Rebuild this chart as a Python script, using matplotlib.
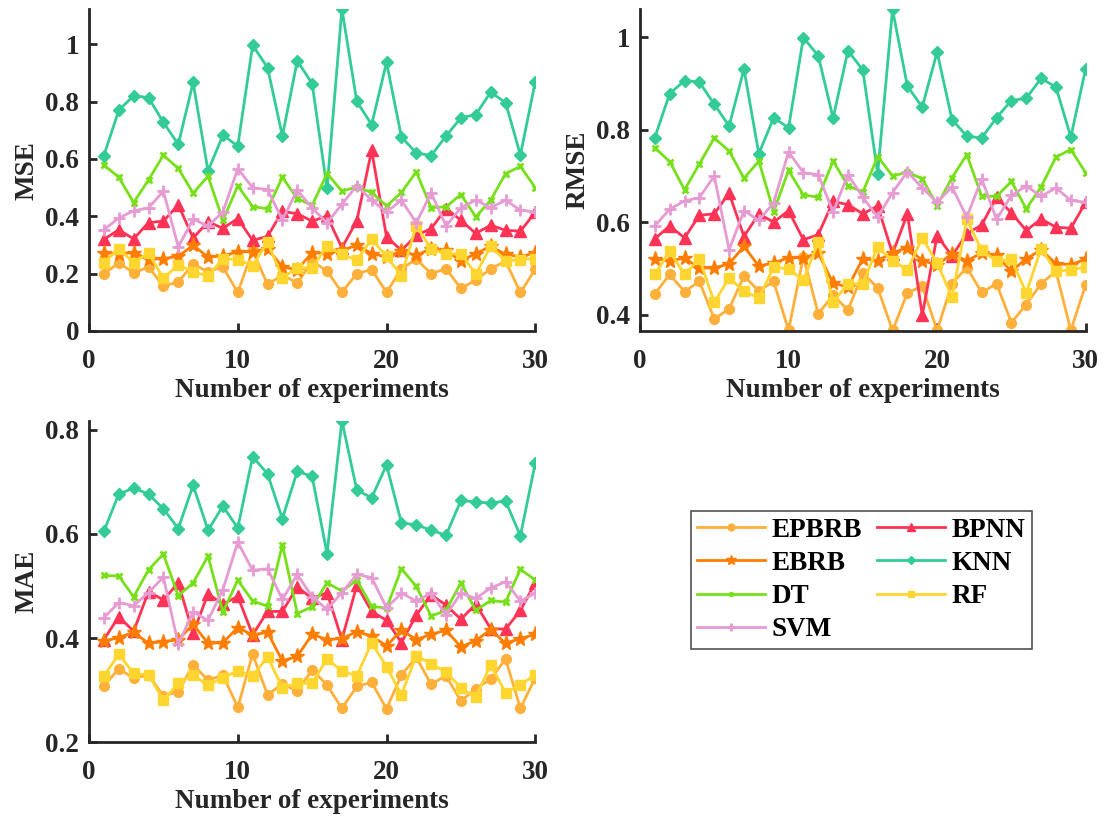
import matplotlib
matplotlib.use("Agg")
import matplotlib.pyplot as plt
from matplotlib.ticker import FuncFormatter

plt.rcParams['font.family'] = ['Liberation Serif', 'DejaVu Serif']
plt.rcParams['font.weight'] = 'bold'

x = list(range(1, 31))
methods = ['EPBRB', 'BPNN', 'EBRB', 'KNN', 'DT', 'RF', 'SVM']
colors = {'EPBRB': '#ffb03b', 'BPNN': '#ff3355', 'EBRB': '#ff7d00', 'KNN': '#33cc96',
          'DT': '#78e01a', 'RF': '#ffd530', 'SVM': '#e69bd2'}
markers = {'EPBRB': ('o', 7), 'BPNN': ('^', 9), 'EBRB': ('*', 11), 'KNN': ('D', 6.5),
           'DT': ('x', 5), 'RF': ('s', 6.5), 'SVM': ('+', 8)}

# MSE
mse_epbrb = [0.198, 0.238, 0.202, 0.223, 0.156, 0.171, 0.233, 0.206, 0.223, 0.134,
             0.281, 0.162, 0.195, 0.167, 0.243, 0.209, 0.134, 0.200, 0.214, 0.134,
             0.217, 0.250, 0.200, 0.217, 0.148, 0.177, 0.217, 0.243, 0.134, 0.215]
mse_bpnn = [0.319, 0.353, 0.321, 0.378, 0.383, 0.440, 0.324, 0.381, 0.358, 0.392,
            0.316, 0.330, 0.417, 0.409, 0.383, 0.401, 0.290, 0.384, 0.630, 0.328,
            0.281, 0.333, 0.357, 0.427, 0.386, 0.340, 0.369, 0.351, 0.348, 0.414]
mse_ebrb = [0.272, 0.270, 0.273, 0.250, 0.252, 0.260, 0.299, 0.257, 0.262, 0.276,
            0.276, 0.287, 0.223, 0.214, 0.273, 0.270, 0.281, 0.299, 0.270, 0.258,
            0.279, 0.264, 0.287, 0.281, 0.244, 0.270, 0.295, 0.267, 0.258, 0.273]
mse_knn = [0.612, 0.770, 0.821, 0.814, 0.728, 0.651, 0.867, 0.558, 0.683, 0.645,
           0.997, 0.919, 0.680, 0.943, 0.863, 0.497, 1.124, 0.801, 0.720, 0.937,
           0.677, 0.621, 0.612, 0.680, 0.744, 0.755, 0.833, 0.797, 0.614, 0.870]
mse_dt = [0.579, 0.536, 0.448, 0.527, 0.613, 0.567, 0.481, 0.540, 0.386, 0.506,
          0.434, 0.426, 0.536, 0.462, 0.438, 0.549, 0.488, 0.502, 0.483, 0.436,
          0.483, 0.555, 0.430, 0.433, 0.476, 0.398, 0.456, 0.549, 0.574, 0.500]
mse_rf = [0.238, 0.287, 0.238, 0.272, 0.183, 0.231, 0.206, 0.191, 0.252, 0.249,
          0.227, 0.310, 0.185, 0.220, 0.220, 0.295, 0.267, 0.247, 0.320, 0.260,
          0.193, 0.366, 0.287, 0.267, 0.270, 0.198, 0.295, 0.244, 0.249, 0.252]
mse_svm = [0.353, 0.394, 0.419, 0.429, 0.488, 0.293, 0.390, 0.366, 0.415, 0.566,
           0.500, 0.493, 0.388, 0.491, 0.429, 0.377, 0.442, 0.507, 0.456, 0.415,
           0.456, 0.377, 0.482, 0.366, 0.430, 0.456, 0.430, 0.456, 0.421, 0.415]

# RMSE
rmse_epbrb = [0.445, 0.487, 0.450, 0.472, 0.391, 0.412, 0.484, 0.451, 0.472, 0.366,
              0.525, 0.402, 0.442, 0.410, 0.490, 0.458, 0.366, 0.447, 0.462, 0.366,
              0.467, 0.502, 0.448, 0.467, 0.383, 0.422, 0.467, 0.494, 0.366, 0.465]
rmse_bpnn = [0.564, 0.592, 0.566, 0.615, 0.618, 0.663, 0.569, 0.618, 0.600, 0.625,
             0.562, 0.573, 0.645, 0.638, 0.618, 0.635, 0.532, 0.618, 0.399, 0.571,
             0.527, 0.575, 0.594, 0.654, 0.620, 0.582, 0.607, 0.589, 0.587, 0.643]
rmse_ebrb = [0.521, 0.517, 0.522, 0.501, 0.501, 0.510, 0.548, 0.505, 0.512, 0.523,
             0.523, 0.533, 0.468, 0.460, 0.521, 0.517, 0.534, 0.545, 0.517, 0.507,
             0.532, 0.516, 0.534, 0.528, 0.494, 0.521, 0.540, 0.510, 0.508, 0.520]
rmse_knn = [0.783, 0.878, 0.906, 0.903, 0.855, 0.808, 0.931, 0.748, 0.826, 0.804,
            0.999, 0.960, 0.825, 0.971, 0.929, 0.705, 1.060, 0.894, 0.849, 0.968,
            0.822, 0.786, 0.782, 0.826, 0.863, 0.868, 0.911, 0.892, 0.784, 0.932]
rmse_dt = [0.761, 0.731, 0.670, 0.726, 0.782, 0.754, 0.695, 0.732, 0.623, 0.712,
           0.659, 0.654, 0.732, 0.679, 0.665, 0.742, 0.700, 0.708, 0.694, 0.636,
           0.696, 0.746, 0.656, 0.656, 0.688, 0.629, 0.676, 0.741, 0.757, 0.707]
rmse_rf = [0.487, 0.537, 0.487, 0.521, 0.427, 0.479, 0.451, 0.436, 0.503, 0.499,
           0.474, 0.558, 0.427, 0.467, 0.467, 0.546, 0.517, 0.497, 0.566, 0.512,
           0.438, 0.606, 0.539, 0.516, 0.520, 0.447, 0.543, 0.494, 0.497, 0.503]
rmse_svm = [0.592, 0.628, 0.646, 0.653, 0.700, 0.540, 0.625, 0.604, 0.642, 0.752,
            0.707, 0.703, 0.622, 0.703, 0.654, 0.611, 0.664, 0.709, 0.674, 0.643,
            0.676, 0.611, 0.694, 0.606, 0.658, 0.678, 0.656, 0.674, 0.647, 0.643]

# MAE
mae_epbrb = [0.308, 0.341, 0.323, 0.329, 0.289, 0.297, 0.349, 0.319, 0.329, 0.267,
             0.369, 0.291, 0.312, 0.298, 0.339, 0.310, 0.265, 0.307, 0.315, 0.264,
             0.329, 0.363, 0.311, 0.328, 0.279, 0.303, 0.321, 0.360, 0.265, 0.324]
mae_bpnn = [0.397, 0.441, 0.413, 0.489, 0.473, 0.506, 0.409, 0.485, 0.465, 0.480,
            0.406, 0.451, 0.451, 0.498, 0.476, 0.487, 0.397, 0.501, 0.451, 0.434,
            0.391, 0.444, 0.483, 0.463, 0.436, 0.465, 0.418, 0.417, 0.453, 0.506]
mae_ebrb = [0.394, 0.401, 0.411, 0.390, 0.393, 0.397, 0.426, 0.390, 0.391, 0.420,
            0.406, 0.411, 0.356, 0.365, 0.407, 0.397, 0.399, 0.412, 0.404, 0.385,
            0.415, 0.397, 0.407, 0.415, 0.383, 0.395, 0.416, 0.390, 0.399, 0.407]
mae_knn = [0.605, 0.676, 0.688, 0.676, 0.648, 0.610, 0.693, 0.607, 0.653, 0.611,
           0.748, 0.715, 0.629, 0.720, 0.710, 0.562, 0.817, 0.684, 0.669, 0.732,
           0.621, 0.617, 0.607, 0.597, 0.664, 0.661, 0.659, 0.663, 0.596, 0.736]
mae_dt = [0.520, 0.519, 0.479, 0.531, 0.561, 0.481, 0.506, 0.557, 0.450, 0.511,
          0.471, 0.461, 0.579, 0.447, 0.460, 0.506, 0.490, 0.511, 0.461, 0.457,
          0.533, 0.499, 0.442, 0.453, 0.506, 0.453, 0.472, 0.469, 0.532, 0.511]
mae_rf = [0.327, 0.369, 0.332, 0.329, 0.281, 0.313, 0.329, 0.309, 0.324, 0.337,
          0.327, 0.364, 0.305, 0.313, 0.313, 0.360, 0.337, 0.327, 0.391, 0.345,
          0.291, 0.366, 0.351, 0.334, 0.305, 0.286, 0.349, 0.295, 0.310, 0.330]
mae_svm = [0.439, 0.468, 0.462, 0.487, 0.517, 0.388, 0.450, 0.434, 0.493, 0.584,
           0.530, 0.533, 0.474, 0.522, 0.479, 0.455, 0.487, 0.522, 0.516, 0.458,
           0.486, 0.471, 0.486, 0.444, 0.486, 0.476, 0.496, 0.508, 0.471, 0.486]

panels = [
    ('MSE', [mse_epbrb, mse_bpnn, mse_ebrb, mse_knn, mse_dt, mse_rf, mse_svm],
     (0, 1.122), [0, 0.2, 0.4, 0.6, 0.8, 1], [0.0807, 0.597, 0.4046, 0.3915]),
    ('RMSE', [rmse_epbrb, rmse_bpnn, rmse_ebrb, rmse_knn, rmse_dt, rmse_rf, rmse_svm],
     (0.365, 1.06), [0.4, 0.6, 0.8, 1], [0.5802, 0.597, 0.4041, 0.3915]),
    ('MAE', [mae_epbrb, mae_bpnn, mae_ebrb, mae_knn, mae_dt, mae_rf, mae_svm],
     (0.2, 0.817), [0.2, 0.4, 0.6, 0.8], [0.0807, 0.0959, 0.4046, 0.3917]),
]

fs = 19.5
dark = '#262626'
fig = plt.figure(figsize=(11.03, 8.21), dpi=100)
handles = {}
for name, series, ylim, yticks, pos in panels:
    ax = fig.add_axes(pos)
    for m, y in zip(methods, series):
        mk, ms = markers[m]
        line, = ax.plot(x, y, color=colors[m], lw=2, marker=mk, ms=ms,
                        mew=2 if mk in ('x', '+') else 1, label=m)
        handles[m] = line
    ax.set_xlim(0, 30)
    ax.set_ylim(*ylim)
    ax.set_xticks([0, 10, 20, 30])
    ax.set_yticks(yticks)
    ax.yaxis.set_major_formatter(FuncFormatter(lambda v, p: f'{v:g}'))
    for s in ('top', 'right'):
        ax.spines[s].set_visible(False)
    for s in ('left', 'bottom'):
        ax.spines[s].set_linewidth(2)
        ax.spines[s].set_color(dark)
    ax.tick_params(direction='in', length=6, width=2, colors=dark, labelsize=fs)
    ax.tick_params(axis='x', pad=13)
    ax.tick_params(axis='y', pad=7)
    ax.set_xlabel('Number of experiments', fontsize=fs, fontweight='bold', color=dark, labelpad=3)
    ax.set_ylabel(name, fontsize=fs, fontweight='bold', color=dark, labelpad=4)

order = ['EPBRB', 'EBRB', 'DT', 'SVM', 'BPNN', 'KNN', 'RF']
leg = fig.legend([handles[m] for m in order], order, loc='center',
                 bbox_to_anchor=(0.781, 0.2935), ncol=2, fontsize=fs,
                 frameon=True, fancybox=False, edgecolor=dark, handlelength=2.5,
                 columnspacing=0.55, labelspacing=0.3, borderpad=0.25,
                 handletextpad=0.25, markerscale=0.7, borderaxespad=0)
leg.get_frame().set_linewidth(1.2)

fig.savefig('out.png', dpi=100)
